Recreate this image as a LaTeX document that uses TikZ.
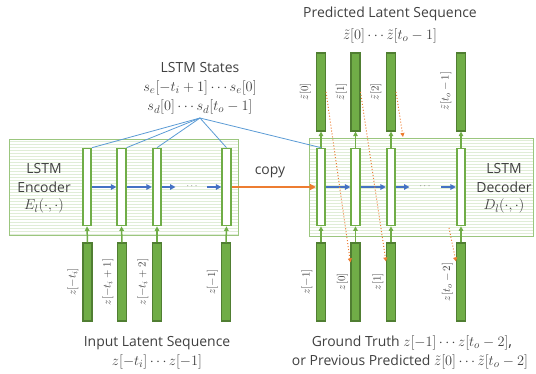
\documentclass[tikz,border=0pt]{standalone}
\usepackage{fontspec}
\setmainfont{Open Sans}
\usetikzlibrary{arrows.meta,calc}
\definecolor{lgreen}{HTML}{70AD47}
\definecolor{dgreen}{HTML}{507E32}
\definecolor{myorange}{RGB}{237,125,49}
\definecolor{myblue}{RGB}{68,114,196}
\definecolor{lblue}{HTML}{5B9BD5}
\definecolor{txt}{HTML}{404040}
\begin{document}
\begin{tikzpicture}[x=1bp,y=-1bp,
  cell/.style={draw=lgreen, line width=1.7bp, fill=white, minimum width=8.5bp, minimum height=77bp, inner sep=0pt},
  bar/.style={draw=dgreen, line width=1.1bp, fill=lgreen, minimum width=9bp, minimum height=78bp, inner sep=0pt},
  garr/.style={draw=lgreen, line width=1.5bp, -{Triangle[length=4.5bp,width=4.5bp]}},
  barr/.style={color=myblue, line width=2bp, -{Triangle[length=5.5bp,width=5.5bp]}},
  sline/.style={draw=lblue, line width=0.8bp},
  carr/.style={color=myorange, line width=2bp, -{Triangle[length=6bp,width=6bp]}},
  oarr/.style={color=myorange, line width=1bp, dotted, -{Triangle[length=4bp,width=4bp]}},
  lab/.style={rotate=90, inner sep=0pt, text=txt, font=\fontsize{11}{12}\selectfont},
  big/.style={inner sep=0pt, text=txt, font=\fontsize{14}{16}\selectfont},
  bigm/.style={inner sep=0pt, text=txt, font=\fontsize{15.5}{17}\selectfont},
  dots/.style={inner sep=0pt, text=txt, font=\fontsize{9}{10}\selectfont},
  stripe/.style={draw=lgreen!22, line width=0.8bp},
  boxedge/.style={draw=lgreen!70, line width=1bp}
]
\useasboundingbox (0,0) rectangle (536,373);
% striped boxes
\fill[white] (9,139) rectangle (238,235);
\foreach \y in {141,144,...,234} \draw[stripe] (9,\y) -- (238,\y);
\draw[boxedge] (9,139) rectangle (238,235);
\fill[white] (309,138) rectangle (533,236);
\foreach \y in {140,143,...,235} \draw[stripe] (309,\y) -- (533,\y);
\draw[boxedge] (309,138) rectangle (533,236);

% box labels
\node[big] (encl1) at (44,169) {LSTM};
\node[big] (encl2) at (44,187) {Encoder};
\node[bigm] (encl3) at (44,206) {$E_l(\cdot,\cdot)$};
\node[big] (decl1) at (504,169) {LSTM};
\node[big] (decl2) at (504,187) {Decoder};
\node[bigm] (decl3) at (504,206) {$D_l(\cdot,\cdot)$};

% cells
\node[cell] (e1) at (87,187) {};
\node[cell] (e2) at (121.5,187) {};
\node[cell] (e3) at (157,187) {};
\node[cell] (e4) at (226.5,187) {};
\node[cell] (d1) at (321,187) {};
\node[cell] (d2) at (355.5,187) {};
\node[cell] (d3) at (391,187) {};
\node[cell] (d4) at (461,187) {};

% bars
\node[bar] (ib1) at (87.5,282) {};
\node[bar] (ib2) at (122,282) {};
\node[bar] (ib3) at (157,282) {};
\node[bar] (ib4) at (226,282) {};
\node[bar] (gb1) at (321,282) {};
\node[bar] (gb2) at (355.5,282) {};
\node[bar] (gb3) at (391,282) {};
\node[bar] (gb4) at (461,282) {};
\node[bar] (pb1) at (321,92) {};
\node[bar] (pb2) at (355.5,92) {};
\node[bar] (pb3) at (391,92) {};
\node[bar] (pb4) at (461,92) {};

% bar labels
\node[lab] (lib1) at (73,282) {$z[-t_i]$};
\node[lab] (lib2) at (108,282) {$z[-t_i+1]$};
\node[lab] (lib3) at (143,282) {$z[-t_i+2]$};
\node[lab] (lib4) at (212.5,282) {$z[-1]$};
\node[lab] (lgb1) at (307,282) {$z[-1]$};
\node[lab] (lgb2) at (342.5,282) {$z[0]$};
\node[lab] (lgb3) at (378,282) {$z[1]$};
\node[lab] (lgb4) at (447.5,282) {$z[t_o-2]$};
\node[lab] (lpb1) at (305.5,92) {$\tilde z[0]$};
\node[lab] (lpb2) at (341.5,92) {$\tilde z[1]$};
\node[lab] (lpb3) at (376,92) {$\tilde z[2]$};
\node[lab] (lpb4) at (446,91) {$\tilde z[t_o-1]$};

% vertical green arrows
\foreach \i in {1,2,3,4} {
  \draw[garr] (ib\i.north) -- (e\i.south);
  \draw[garr] (gb\i.north) -- (d\i.south);
  \draw[garr] (d\i.north) -- (pb\i.south);
}

% horizontal blue arrows
\draw[barr] (e1.east) -- (e2.west);
\draw[barr] (e2.east) -- (e3.west);
\node[dots] (edots) at (192,186) {$\cdots$};
\coordinate (ea) at (175.5,187);
\coordinate (eb) at (207,187);
\draw[barr] (e3.east) -- (ea);
\draw[barr] (eb) -- (e4.west);
\draw[barr] (d1.east) -- (d2.west);
\draw[barr] (d2.east) -- (d3.west);
\node[dots] (ddots) at (425,186) {$\cdots$};
\coordinate (da) at (409.5,187);
\coordinate (db) at (441,187);
\draw[barr] (d3.east) -- (da);
\draw[barr] (db) -- (d4.west);

% copy arrow
\draw[carr] (e4.east) -- (d1.west);
\node[big] (copy) at (270,172) {copy};

% LSTM states
\node[big] (st1) at (200,68) {LSTM States};
\node[bigm] (st2) at (200,88) {$s_e[-t_i+1]\cdots s_e[0]$};
\node[bigm] (st3) at (200,107) {$s_d[0]\cdots s_d[t_o-1]$};
\coordinate (fan) at (200,118);
\draw[sline] (fan) -- (e1.north east);
\draw[sline] (fan) -- (e2.north east);
\draw[sline] (fan) -- (e3.north);
\draw[sline] (fan) -- (e4.north);
\draw[sline] (fan) -- (d1.north);

% dotted orange feedback arrows
\draw[oarr] (pb1.east) -- ($(gb2.north west)+(0,20)$);
\draw[oarr] (pb2.east) -- ($(gb3.north west)+(0,19)$);
\coordinate (o3e) at (403,137);
\draw[oarr] (pb3.east) -- (o3e);
\coordinate (o4s) at (449,228);
\draw[oarr] (o4s) -- ($(gb4.north west)+(0,19)$);

% titles
\node[big] (ptitle) at (390,14) {Predicted Latent Sequence};
\node[bigm] (pmath) at (390,36) {$\tilde z[0]\cdots\tilde z[t_o-1]$};
\node[big] (ititle) at (157,343) {Input Latent Sequence};
\node[bigm] (imath) at (157,362) {$z[-t_i]\cdots z[-1]$};
\node[big] (gtitle) at (412,343) {Ground Truth \fontsize{15.5}{17}\selectfont$z[-1]\cdots z[t_o-2]$,};
\node[big] (gmath) at (410,362) {or Previous Predicted \fontsize{15.5}{17}\selectfont$\tilde z[0]\cdots\tilde z[t_o-2]$};
\end{tikzpicture}
\end{document}
